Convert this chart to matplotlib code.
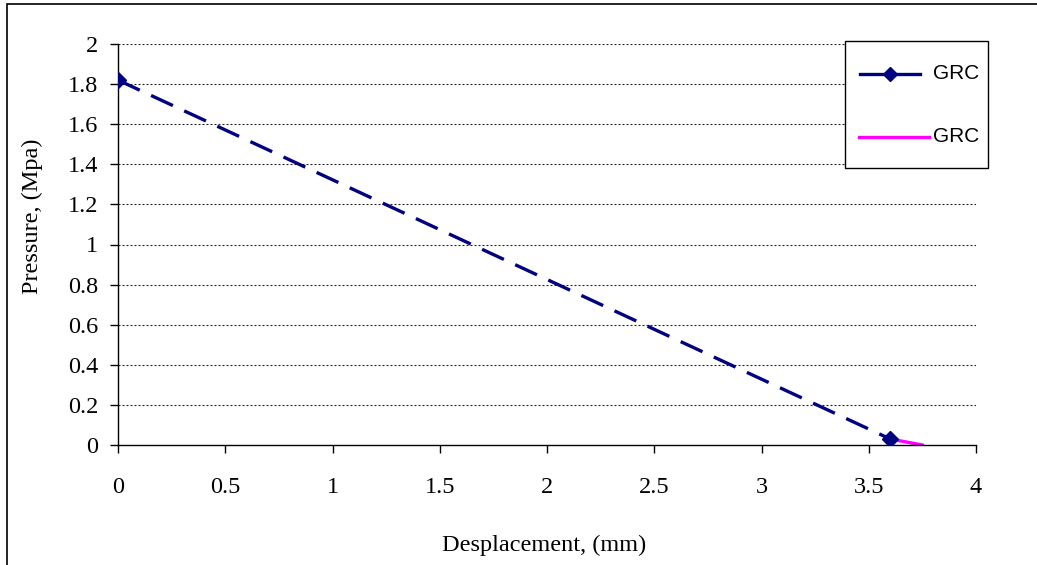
import matplotlib.pyplot as plt
from matplotlib.lines import Line2D
from matplotlib.patches import Rectangle

# data
grc_x = [0.0, 3.6]
grc_y = [1.82, 0.03]
tail_x = [3.6, 3.75]
tail_y = [0.03, 0.0]
x_ticks = [0, 0.5, 1, 1.5, 2, 2.5, 3, 3.5, 4]
x_tick_labels = ["0", "0.5", "1", "1.5", "2", "2.5", "3", "3.5", "4"]
y_ticks = [0, 0.2, 0.4, 0.6, 0.8, 1, 1.2, 1.4, 1.6, 1.8, 2]
y_tick_labels = ["0", "0.2", "0.4", "0.6", "0.8", "1", "1.2", "1.4", "1.6", "1.8", "2"]
legend_labels = ["GRC", "GRC"]

navy = "#000080"
magenta = "#FF00FF"
serif = ["Liberation Serif", "DejaVu Serif"]
sans = ["Liberation Sans", "DejaVu Sans"]
fs = 17.5

W, H = 1037, 565
fig = plt.figure(figsize=(W / 100, H / 100), dpi=100)


def fx(px):
    return px / W


def fy(py):
    return 1 - py / H


# outer chart border (only left/top fall inside the picture)
fig.patches.append(Rectangle((fx(6.5), -0.1), 1.2, fy(4) + 0.1, transform=fig.transFigure,
                             fill=False, edgecolor="black", linewidth=1.2))

ax = fig.add_axes([fx(118), fy(445), (976 - 118) / W, (445 - 44) / H])
ax.set_xlim(0, 4)
ax.set_ylim(0, 2)

# dotted horizontal grid, skipping the x axis itself
for yv in y_ticks[1:]:
    ax.axhline(yv, color="#202020", linewidth=0.8, linestyle=(0, (1.8, 1.8)), zorder=1)

ax.plot(grc_x, grc_y, color=navy, linewidth=2.4, linestyle=(0, (7.2, 3.75)),
        marker="D", markersize=8.5, markeredgecolor=navy, markerfacecolor=navy, zorder=3)
ax.plot(tail_x, tail_y, color=magenta, linewidth=2.4, zorder=2)

for s in ["top", "right"]:
    ax.spines[s].set_visible(False)
for s in ["left", "bottom"]:
    ax.spines[s].set_linewidth(1.0)
    ax.spines[s].set_color("black")

ax.set_xticks(x_ticks)
ax.set_xticklabels(x_tick_labels, fontfamily=serif, fontsize=fs)
ax.set_yticks(y_ticks)
ax.set_yticklabels(y_tick_labels, fontfamily=serif, fontsize=fs)
ax.tick_params(axis="both", direction="out", length=5.8, width=1.0, color="black")
ax.tick_params(axis="x", pad=17.5)
ax.tick_params(axis="y", pad=8.5)

ax.set_xlabel("Desplacement, (mm)", fontfamily=serif, fontsize=fs)
ax.xaxis.set_label_coords((544.5 - 118) / 858, (445 - 545) / 401)
ax.xaxis.label.set_verticalalignment("center")
ax.set_ylabel("Pressure, (Mpa)", fontfamily=serif, fontsize=fs)
ax.yaxis.set_label_coords((32 - 118) / 858, (445 - 216) / 401)
ax.yaxis.label.set_verticalalignment("center")

# legend box drawn by hand to match the reference layout
fig.patches.append(Rectangle((fx(845), fy(168)), fx(988) - fx(845), fy(41) - fy(168),
                             transform=fig.transFigure, facecolor="white",
                             edgecolor="black", linewidth=1.0, zorder=5))
fig.lines.append(Line2D([fx(860), fx(920)], [fy(74), fy(74)], transform=fig.transFigure,
                        color=navy, linewidth=2.4, zorder=6))
fig.lines.append(Line2D([fx(890)], [fy(74)], transform=fig.transFigure, color=navy,
                        marker="D", markersize=7, linestyle="none", zorder=7))
fig.lines.append(Line2D([fx(859), fx(929)], [fy(136.5), fy(136.5)], transform=fig.transFigure,
                        color=magenta, linewidth=2.4, zorder=6))
fig.text(fx(933), fy(73), legend_labels[0], family=sans, fontsize=15, va="center", ha="left", zorder=7)
fig.text(fx(933), fy(136), legend_labels[1], family=sans, fontsize=15, va="center", ha="left", zorder=7)

fig.savefig("out.png", dpi=100, facecolor="white")
